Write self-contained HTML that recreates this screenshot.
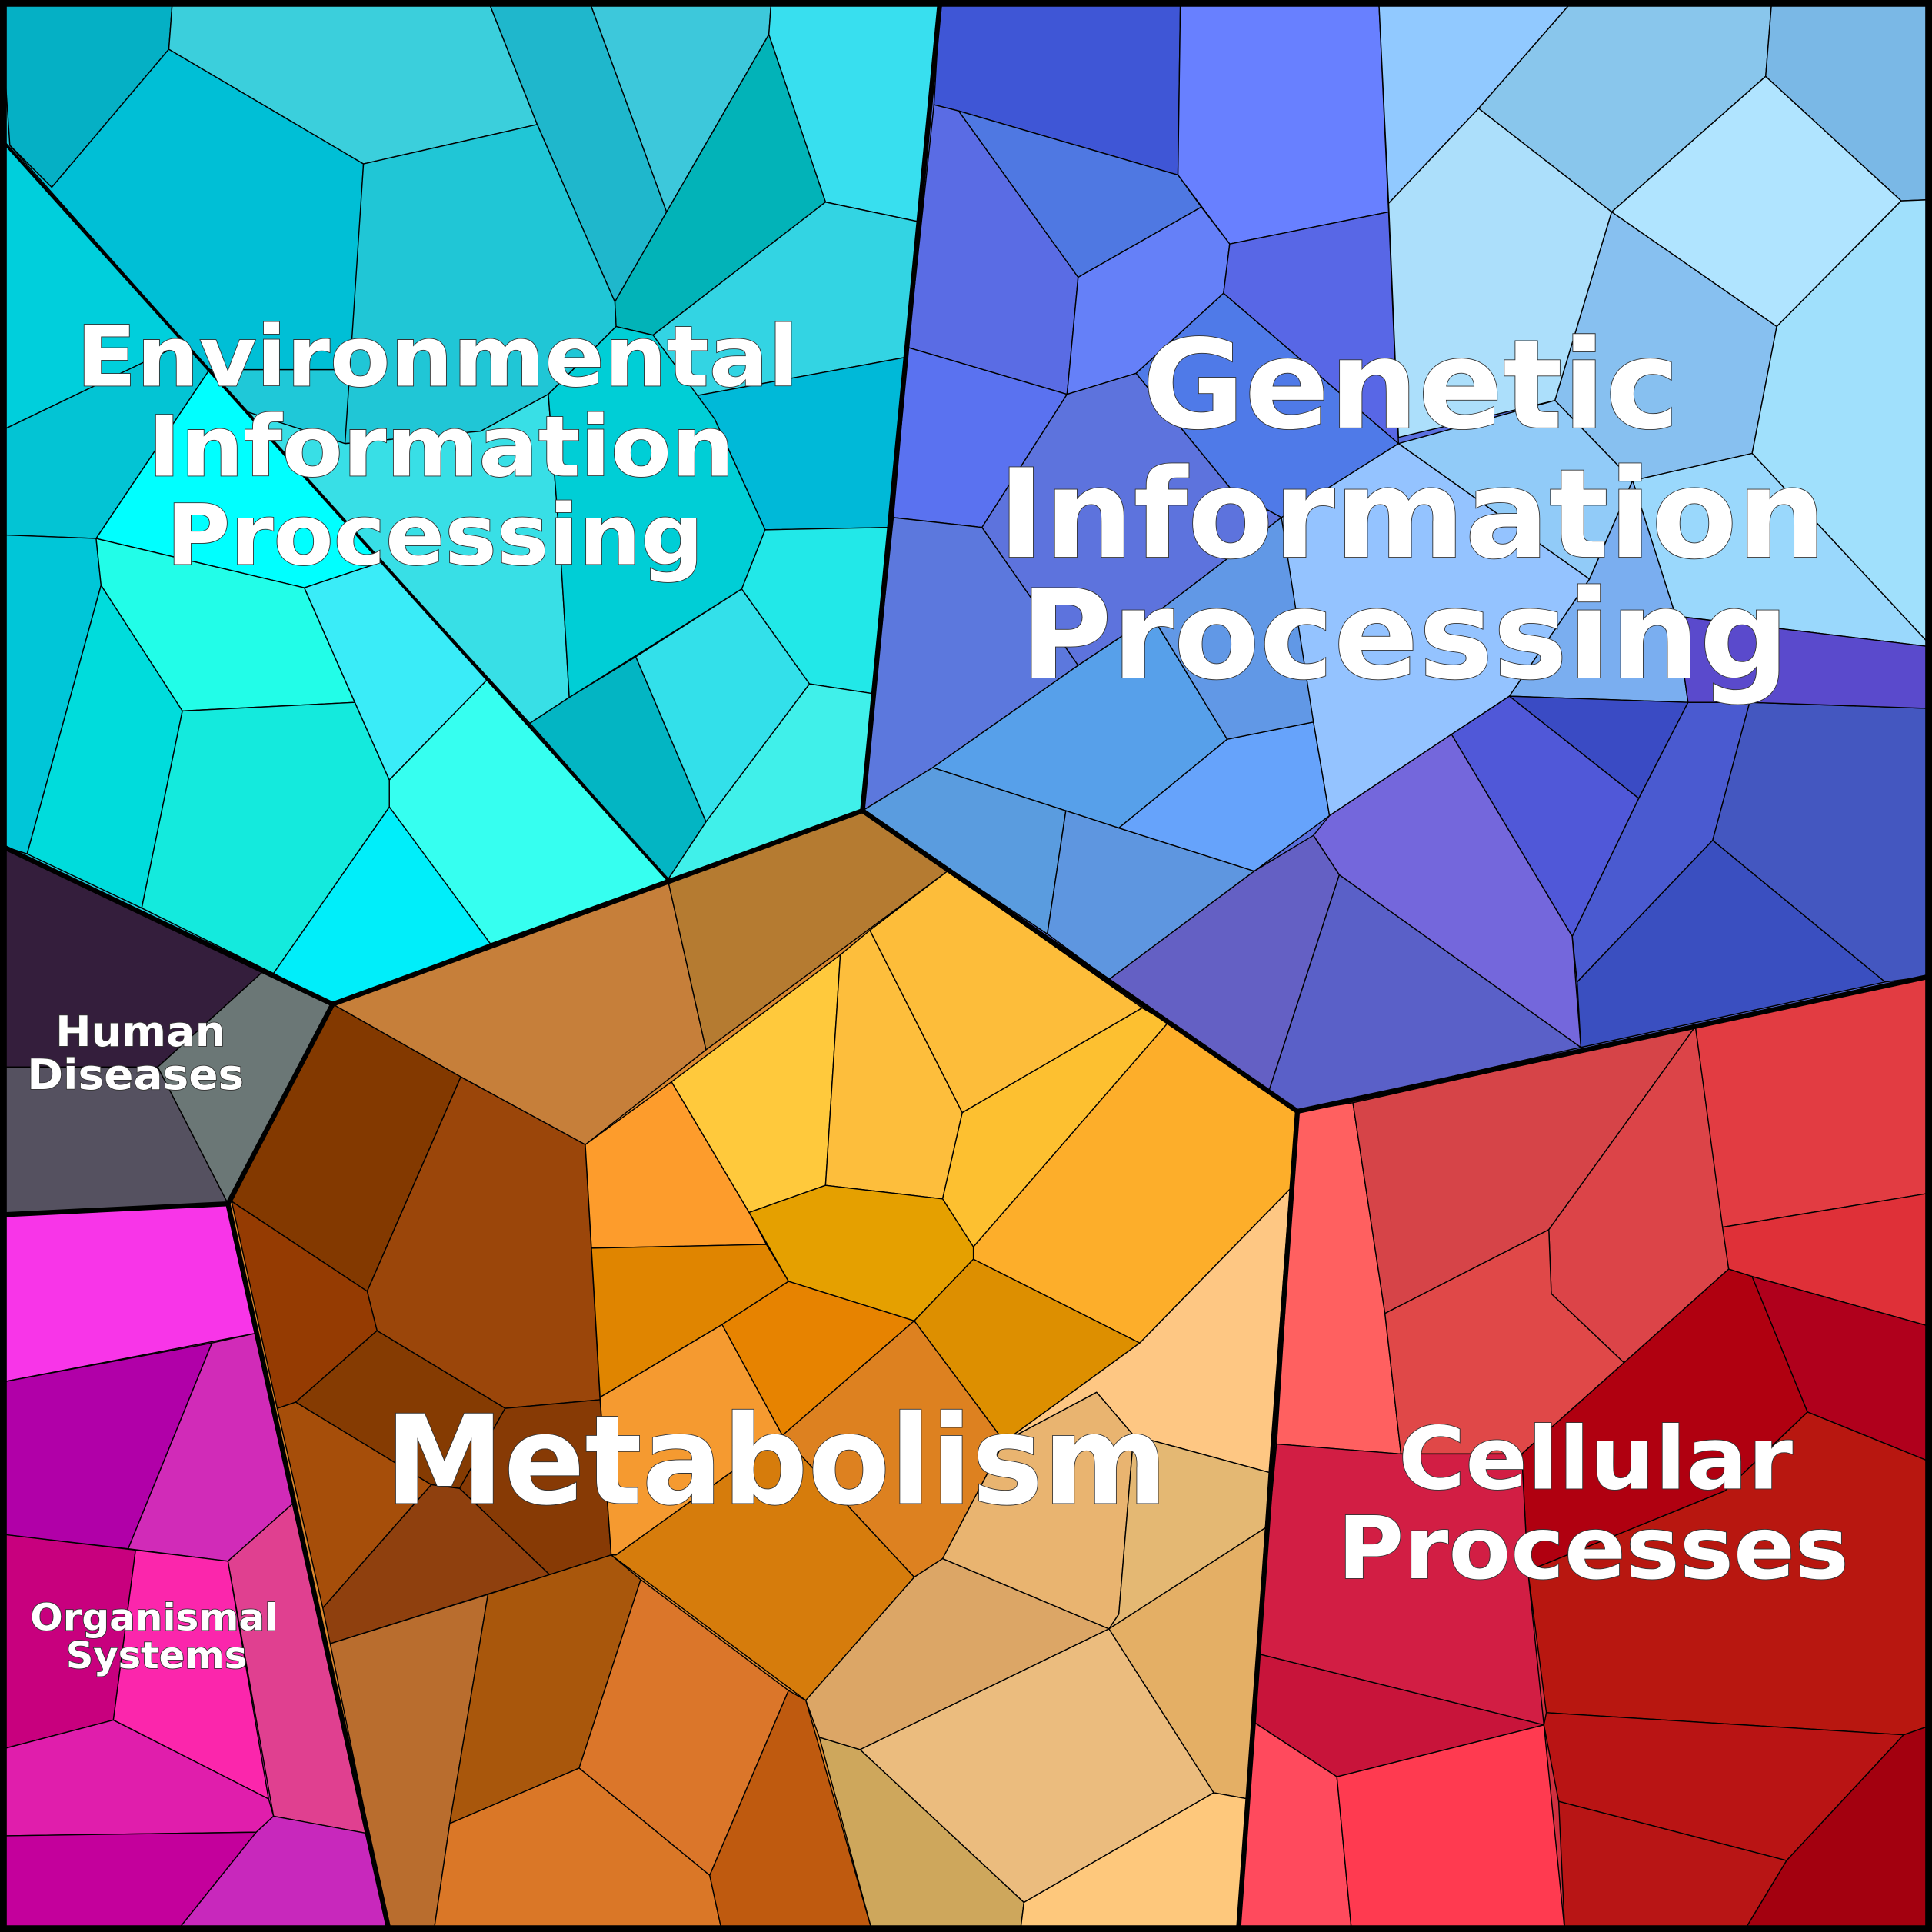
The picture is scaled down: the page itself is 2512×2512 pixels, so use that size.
<!DOCTYPE html>
<html><head><meta charset="utf-8"><style>
html,body{margin:0;padding:0;background:#000}
svg{display:block}
.c polygon{stroke:#000;stroke-width:0.9;stroke-linejoin:round}
text{font-family:"DejaVu Sans","Liberation Sans",sans-serif;font-weight:bold;fill:#fff;stroke:#333;stroke-width:1.1;paint-order:stroke;text-anchor:middle}
</style></head><body>
<svg width="2512" height="2512" viewBox="0 0 1568 1568" xmlns="http://www.w3.org/2000/svg">
<g class="c">
<!-- base fills -->
<polygon points="0,0 763,0 700,658 542,714 270,815 0,686" fill="#1fc8d8"/>
<polygon points="763,0 1568,0 1568,792 1053,902 700,658" fill="#5a70e0"/>
<polygon points="270,815 700,658 1053,902 1005,1568 316,1568 185,977" fill="#dd8a30"/>
<polygon points="1053,902 1568,792 1568,1568 1005,1568" fill="#d03040"/>
<polygon points="0,686 270,815 185,977 0,986" fill="#555160"/>
<polygon points="0,986 185,977 316,1568 0,1568" fill="#d020a8"/>
</g>
<g class="c">
<!-- Environmental -->
<polygon points="0,0 140,0 137,40 42,152 8,118" fill="#05b0c5"/>
<polygon points="140,0 396,0 436,101 295,133 137,40" fill="#3bcfdc"/>
<polygon points="42,152 137,40 295,133 285,300 170,300 8,118" fill="#00bfd6"/>
<polygon points="396,0 478,0 541,172 499,245 436,101" fill="#1fb7cc"/>
<polygon points="478,0 626,0 624,28 541,172" fill="#3dc8db"/>
<polygon points="626,0 763,0 746,180 670,164 624,28" fill="#38dfef"/>
<polygon points="624,28 670,164 530,272 500,265 499,245 541,172" fill="#02b3b8"/>
<polygon points="436,101 499,245 500,265 445,320 390,350 280,360 295,133" fill="#20c6d6"/>
<polygon points="670,164 746,180 735,290 555,323 530,272" fill="#33d4e3"/>
<polygon points="555,323 735,290 722,428 621,430 580,340" fill="#00b9d8"/>
<polygon points="0,112 150,278 0,350" fill="#00cfdc"/>
<polygon points="0,350 150,278 170,300 78,437 0,434" fill="#03c4d4"/>
<polygon points="78,437 170,300 200,334 310,456 247,477" fill="#00ffff"/>
<polygon points="0,434 78,437 82,475 22,693 0,686" fill="#00c6d8"/>
<polygon points="82,475 78,437 247,477 288,570 148,577" fill="#22fde8"/>
<polygon points="22,693 82,475 148,577 115,737" fill="#00dcdc"/>
<polygon points="148,577 288,570 316,633 316,655 222,790 115,737" fill="#14eadd"/>
<polygon points="247,477 310,456 396,551 316,633 288,570" fill="#3aecf8"/>
<polygon points="316,655 316,633 396,551 542,714 398,766" fill="#36fff0"/>
<polygon points="222,790 316,655 398,766 270,815" fill="#00eefa"/>
<polygon points="280,360 390,350 445,320 455,450 462,566 430,587 310,456 200,334" fill="#38dfe6"/>
<polygon points="445,320 500,265 530,272 580,340 621,430 602,478 462,566 455,450" fill="#00ced6"/>
<polygon points="430,587 462,566 516,533 573,667 542,714" fill="#03b5c3"/>
<polygon points="516,533 602,478 657,555 573,667" fill="#33e0ea"/>
<polygon points="602,478 621,430 722,428 709,563 657,555" fill="#22e8e8"/>
<polygon points="657,555 709,563 700,658 542,714 573,667" fill="#40f0ea"/>
<!-- Genetic -->
<polygon points="763,0 958,0 956,142 778,90 758,85" fill="#3f56d6"/>
<polygon points="958,0 1119,0 1127,172 998,198 956,142" fill="#6880ff"/>
<polygon points="758,85 778,90 875,225 866,320 737,282" fill="#5a6ce4"/>
<polygon points="778,90 956,142 975,168 875,225" fill="#4f78e2"/>
<polygon points="875,225 975,168 998,198 993,238 922,303 866,320" fill="#6580f8"/>
<polygon points="998,198 1127,172 1135,360 993,238" fill="#5867e6"/>
<polygon points="993,238 1135,360 1040,420 1000,398 922,303" fill="#4f7ae8"/>
<polygon points="1119,0 1277,0 1200,88 1127,165" fill="#91c9ff"/>
<polygon points="1277,0 1438,0 1433,62 1308,172 1200,88" fill="#89c6ec"/>
<polygon points="1438,0 1568,0 1568,162 1543,163 1433,62" fill="#7ab8e6"/>
<polygon points="1127,165 1200,88 1308,172 1262,325 1135,355" fill="#acdffb"/>
<polygon points="1308,172 1433,62 1543,163 1442,265" fill="#b0e4ff"/>
<polygon points="1308,172 1442,265 1422,368 1325,390 1262,325" fill="#87c0f0"/>
<polygon points="1543,163 1568,162 1568,525 1422,368 1442,265" fill="#a0e0fc"/>
<polygon points="1422,368 1568,525 1360,500 1325,390" fill="#9ad8fc"/>
<polygon points="1135,360 1262,325 1325,390 1290,470" fill="#91cbf8"/>
<polygon points="737,282 866,320 797,428 725,420" fill="#5a72f0"/>
<polygon points="725,420 797,428 875,540 757,623 700,658" fill="#5c78dd"/>
<polygon points="797,428 866,320 922,303 1000,398 1040,420 935,500 875,540" fill="#5d73dd"/>
<polygon points="757,623 875,540 935,500 996,600 908,672 865,658" fill="#57a0ea"/>
<polygon points="700,658 757,623 865,658 850,758" fill="#5a9cdf"/>
<polygon points="850,758 865,658 908,672 1018,707 900,795" fill="#5e96e0"/>
<polygon points="908,672 996,600 1066,586 1079,662 1018,707" fill="#66a3fb"/>
<polygon points="935,500 1040,420 1055,500 1066,586 996,600" fill="#6198e6"/>
<polygon points="1040,420 1135,360 1290,470 1225,565 1178,596 1079,662 1066,586" fill="#94c3ff"/>
<polygon points="1290,470 1325,390 1360,500 1370,570 1225,565" fill="#7aaef0"/>
<polygon points="1225,565 1370,570 1330,648" fill="#3a4bc4"/>
<polygon points="1178,596 1225,565 1330,648 1276,760" fill="#5058d8"/>
<polygon points="900,795 1018,707 1066,678 1087,710 1030,885" fill="#6460c4"/>
<polygon points="1087,710 1283,850 1053,902 1030,885" fill="#5a60c8"/>
<polygon points="1066,678 1079,662 1178,596 1276,760 1283,850 1087,710" fill="#7467dc"/>
<polygon points="1276,760 1330,648 1370,570 1420,570 1390,682 1280,797" fill="#4a5ad0"/>
<polygon points="1280,797 1390,682 1530,797 1283,850" fill="#3a4fc0"/>
<polygon points="1390,682 1420,570 1568,575 1568,792 1530,797" fill="#4457c0"/>
<polygon points="1360,500 1568,525 1568,575 1420,570 1370,570" fill="#5a4acc"/>
<!-- Human diseases -->
<polygon points="0,686 214,788 128,866 0,866" fill="#341e3c"/>
<polygon points="214,788 270,815 185,977 128,866" fill="#6b7776"/>
<polygon points="0,866 128,866 185,977 0,986" fill="#555160"/>
<!-- Organismal -->
<polygon points="0,986 185,977 208,1082 0,1122" fill="#f835e8"/>
<polygon points="0,1122 172,1090 104,1257 0,1245" fill="#b100a8"/>
<polygon points="172,1090 208,1082 238,1220 185,1267 104,1257" fill="#d12bb8"/>
<polygon points="0,1245 110,1258 92,1396 0,1420" fill="#c8007e"/>
<polygon points="110,1258 185,1267 218,1460 92,1396" fill="#fb26ac"/>
<polygon points="185,1267 238,1220 298,1488 222,1474" fill="#e04090"/>
<polygon points="0,1420 92,1396 218,1460 222,1474 208,1487 0,1490" fill="#e01eac"/>
<polygon points="0,1490 208,1487 143,1568 0,1568" fill="#c4009c"/>
<polygon points="143,1568 208,1487 222,1474 298,1488 316,1568" fill="#c828bc"/>
<!-- Metabolism -->
<polygon points="270,815 542,714 573,852 475,929 374,874" fill="#c67f3a"/>
<polygon points="542,714 700,658 769,707 573,852" fill="#b57b31"/>
<polygon points="270,815 374,874 298,1048 188,975" fill="#833900"/>
<polygon points="374,874 475,929 487,1136 410,1143 306,1080 298,1048" fill="#9b460a"/>
<polygon points="188,975 298,1048 306,1080 240,1138 225,1143" fill="#953b02"/>
<polygon points="240,1138 306,1080 410,1143 373,1208 350,1205" fill="#853b02"/>
<polygon points="225,1143 240,1138 350,1205 262,1305" fill="#a64e0a"/>
<polygon points="410,1143 487,1136 496,1262 446,1278 373,1208" fill="#873a05"/>
<polygon points="262,1305 350,1205 373,1208 446,1278 268,1334" fill="#8f400e"/>
<polygon points="475,929 545,878 608,984 622,1010 480,1013" fill="#fd9c2c"/>
<polygon points="545,878 682,775 670,962 608,984" fill="#ffc93c"/>
<polygon points="682,775 706,755 781,903 765,973 670,962" fill="#fdbe3c"/>
<polygon points="706,755 769,707 927,818 781,903" fill="#fdbd3a"/>
<polygon points="781,903 927,818 948,830 790,1012 765,973" fill="#fdc030"/>
<polygon points="948,830 1053,902 1047,965 925,1090 790,1022 790,1012" fill="#fdae2a"/>
<polygon points="608,984 670,962 765,973 790,1012 790,1022 742,1072 640,1040" fill="#e5a000"/>
<polygon points="480,1013 622,1010 640,1040 586,1075 487,1134" fill="#e08500"/>
<polygon points="586,1075 640,1040 742,1072 635,1165" fill="#e78300"/>
<polygon points="742,1072 790,1022 925,1090 815,1170" fill="#dd8f00"/>
<polygon points="487,1134 586,1075 635,1165 500,1262 496,1262" fill="#f59a30"/>
<polygon points="635,1165 742,1072 815,1170 765,1265 742,1280" fill="#dd8120"/>
<polygon points="496,1262 500,1262 635,1165 742,1280 654,1380" fill="#d67c0c"/>
<polygon points="815,1170 925,1090 1047,965 1030,1195 920,1165 890,1130" fill="#fec783"/>
<polygon points="890,1130 920,1165 908,1310 900,1322 765,1265 815,1170" fill="#e9b470"/>
<polygon points="920,1165 1030,1195 1027,1240 900,1322 908,1310" fill="#e4b873"/>
<polygon points="654,1380 742,1280 765,1265 900,1322 698,1420 665,1410" fill="#dca666"/>
<polygon points="900,1322 1027,1240 1013,1460 985,1455" fill="#e4af65"/>
<polygon points="698,1420 900,1322 985,1455 831,1544" fill="#ebbc7e"/>
<polygon points="665,1410 698,1420 831,1544 828,1568 708,1568" fill="#cea75c"/>
<polygon points="831,1544 985,1455 1013,1460 1005,1568 828,1568" fill="#fec87c"/>
<polygon points="268,1334 396,1294 365,1480 352,1568 316,1568" fill="#b96d2e"/>
<polygon points="396,1294 496,1262 520,1282 470,1435 365,1480" fill="#a9570c"/>
<polygon points="520,1282 640,1372 576,1522 470,1435" fill="#db762a"/>
<polygon points="365,1480 470,1435 576,1522 586,1568 352,1568" fill="#da7727"/>
<polygon points="640,1372 654,1380 708,1568 586,1568 576,1522" fill="#bf5a0f"/>
<!-- Cellular -->
<polygon points="1053,902 1098,895 1124,1066 1137,1180 1036,1172" fill="#ff6060"/>
<polygon points="1098,895 1376,833 1257,998 1124,1066" fill="#d64448"/>
<polygon points="1376,833 1403,1030 1318,1106 1259,1050 1257,998" fill="#dc4448"/>
<polygon points="1124,1066 1257,998 1259,1050 1318,1106 1235,1180 1137,1180" fill="#e04848"/>
<polygon points="1376,833 1568,792 1568,968 1398,996" fill="#e23c42"/>
<polygon points="1398,996 1568,968 1568,1077 1422,1036 1403,1030" fill="#df3038"/>
<polygon points="1235,1180 1318,1106 1403,1030 1422,1036 1467,1146 1400,1210 1240,1275" fill="#b00010"/>
<polygon points="1422,1036 1568,1077 1568,1187 1467,1146" fill="#b0001c"/>
<polygon points="1036,1172 1137,1180 1235,1180 1240,1275 1253,1400 1020,1342" fill="#d21e44"/>
<polygon points="1240,1275 1400,1210 1467,1146 1568,1187 1568,1400 1545,1408 1255,1390" fill="#b81710"/>
<polygon points="1020,1342 1253,1400 1085,1442 1018,1398" fill="#c8143a"/>
<polygon points="1018,1398 1085,1442 1097,1568 1005,1568" fill="#ff4a5d"/>
<polygon points="1085,1442 1253,1400 1270,1568 1097,1568" fill="#ff3a50"/>
<polygon points="1253,1400 1255,1390 1545,1408 1450,1510 1265,1462" fill="#b91414"/>
<polygon points="1265,1462 1450,1510 1415,1568 1270,1568" fill="#b81515"/>
<polygon points="1450,1510 1545,1408 1568,1400 1568,1568 1415,1568" fill="#a3000f"/>
</g>
<!-- main borders -->
<g fill="none" stroke="#000" stroke-width="4" stroke-linejoin="round">
<polyline points="763,0 700,658 1053,902 1568,792"/>
<polyline points="0,686 270,815 700,658"/>
<polyline points="270,815 185,977 0,986"/>
<polyline points="185,977 316,1568"/>
<polyline points="1053,902 1005,1568"/>
<line x1="0" y1="112" x2="542" y2="714" stroke-width="2.5"/>
<rect x="2.5" y="2.5" width="1563" height="1563" stroke-width="6"/>
</g>
<text x="355" y="313" font-size="68" textLength="586" lengthAdjust="spacingAndGlyphs">Environmental</text>
<text x="358" y="386" font-size="68" textLength="476" lengthAdjust="spacingAndGlyphs">Information</text>
<text x="353" y="458" font-size="68" textLength="436" lengthAdjust="spacingAndGlyphs">Processing</text>
<text x="1145" y="347" font-size="100" textLength="436" lengthAdjust="spacingAndGlyphs">Genetic</text>
<text x="1146" y="452" font-size="100" textLength="672" lengthAdjust="spacingAndGlyphs">Information</text>
<text x="1140" y="550" font-size="100" textLength="624" lengthAdjust="spacingAndGlyphs">Processing</text>
<text x="630" y="1220" font-size="100" textLength="635" lengthAdjust="spacingAndGlyphs">Metabolism</text>
<text x="1295" y="1208" font-size="70" textLength="320" lengthAdjust="spacingAndGlyphs">Cellular</text>
<text x="1293" y="1281" font-size="70" textLength="415" lengthAdjust="spacingAndGlyphs">Processes</text>
<text x="114" y="849" font-size="34" textLength="138" lengthAdjust="spacingAndGlyphs">Human</text>
<text x="110" y="884" font-size="34" textLength="176" lengthAdjust="spacingAndGlyphs">Diseases</text>
<text x="125" y="1323" font-size="30" textLength="201" lengthAdjust="spacingAndGlyphs">Organismal</text>
<text x="127" y="1354" font-size="30" textLength="147" lengthAdjust="spacingAndGlyphs">Systems</text>
</svg>
</body></html>
